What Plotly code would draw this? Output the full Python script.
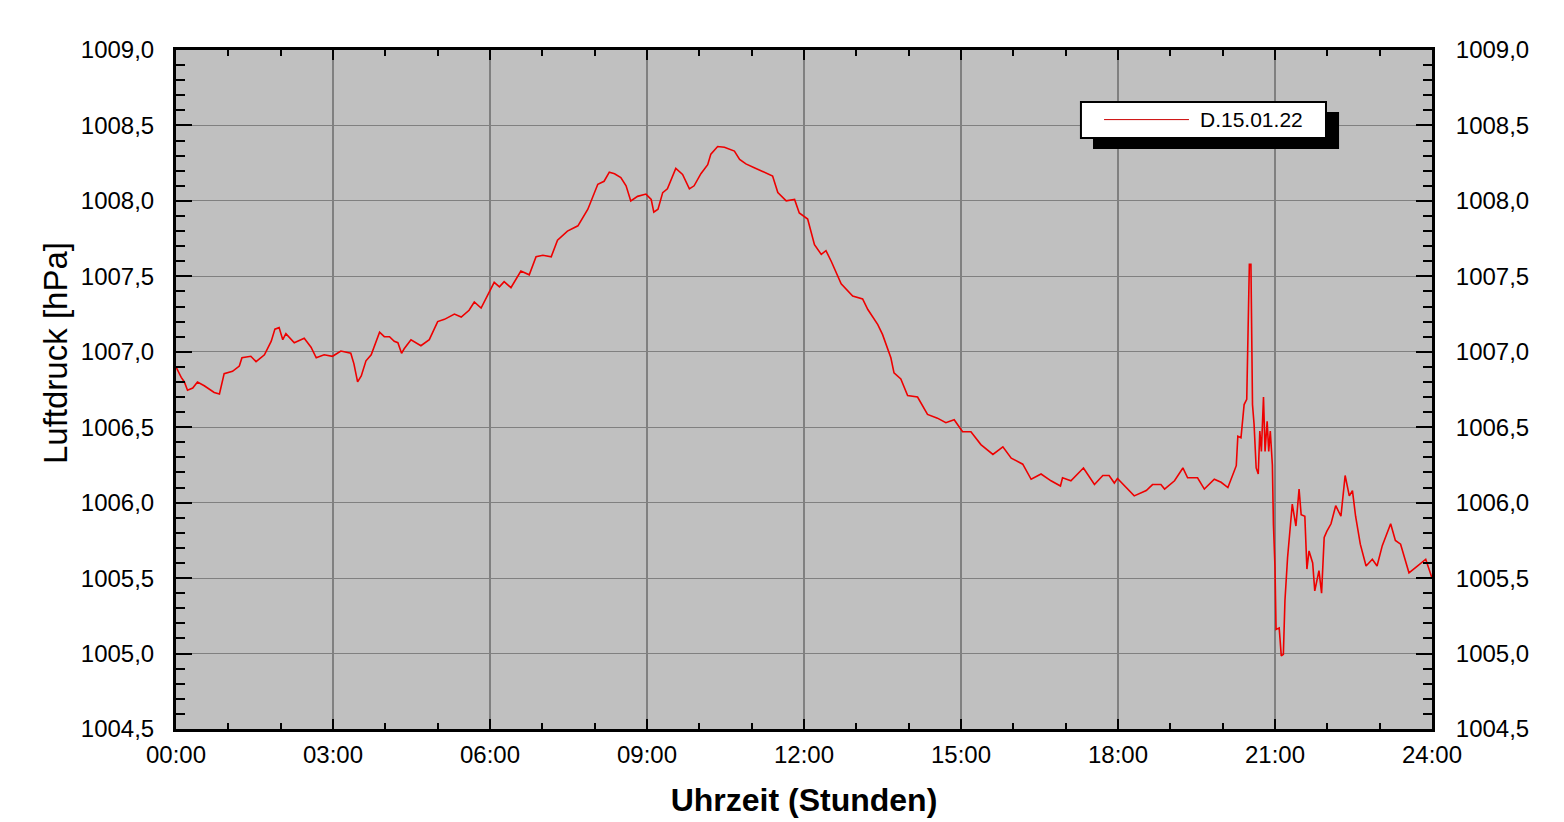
import numpy as np
import plotly.graph_objects as go

# ---- data ----
hours = [0.00, 0.10, 0.16, 0.22, 0.32, 0.41, 0.54, 0.73, 0.83, 0.92, 1.08, 1.21, 1.26, 1.43, 1.53,
         1.69, 1.82, 1.89, 1.97, 2.04, 2.10, 2.26, 2.45, 2.58, 2.68, 2.83, 2.99, 3.15, 3.34, 3.40,
         3.47, 3.54, 3.63, 3.73, 3.89, 3.98, 4.08, 4.17, 4.24, 4.31, 4.36, 4.49, 4.68, 4.84, 5.00,
         5.13, 5.32, 5.45, 5.60, 5.70, 5.83, 6.08, 6.18, 6.27, 6.40, 6.59, 6.75, 6.88, 7.01, 7.17,
         7.29, 7.48, 7.68, 7.87, 8.06, 8.18, 8.28, 8.38, 8.50, 8.60, 8.69, 8.82, 8.98, 9.08, 9.13,
         9.21, 9.30, 9.39, 9.55, 9.68, 9.81, 9.90, 10.03, 10.16, 10.22, 10.35, 10.48, 10.67, 10.77,
         10.89, 11.05, 11.24, 11.40, 11.50, 11.66, 11.82, 11.91, 12.07, 12.20, 12.33, 12.42, 12.52,
         12.65, 12.71, 12.93, 13.12, 13.22, 13.41, 13.50, 13.66, 13.72, 13.85, 13.98, 14.17, 14.36,
         14.55, 14.71, 14.87, 15.03, 15.19, 15.38, 15.61, 15.80, 15.96, 16.18, 16.34, 16.53, 16.72,
         16.90, 16.94, 17.10, 17.34, 17.55, 17.71, 17.83, 17.93, 17.99, 18.31, 18.54, 18.66, 18.82,
         18.89, 19.08, 19.24, 19.33, 19.52, 19.65, 19.84, 19.97, 20.10, 20.26, 20.29, 20.35, 20.41,
         20.46, 20.49, 20.51, 20.54, 20.55, 20.57, 20.60, 20.64, 20.68, 20.71, 20.74, 20.78, 20.81,
         20.85, 20.88, 20.91, 20.95, 20.97, 21.00, 21.02, 21.08, 21.12, 21.16, 21.19, 21.24, 21.29,
         21.33, 21.40, 21.46, 21.50, 21.57, 21.61, 21.65, 21.72, 21.76, 21.84, 21.89, 21.94, 21.99,
         22.07, 22.16, 22.26, 22.34, 22.42, 22.48, 22.54, 22.63, 22.74, 22.86, 22.95, 23.05, 23.21,
         23.30, 23.40, 23.56, 23.72, 23.88, 24.00]

pressure = [1006.90, 1006.83, 1006.80, 1006.745, 1006.76, 1006.80, 1006.775, 1006.73, 1006.72, 1006.855,
            1006.87, 1006.905, 1006.96, 1006.97, 1006.935, 1006.98, 1007.07, 1007.15, 1007.16, 1007.08,
            1007.12, 1007.06, 1007.09, 1007.03, 1006.96, 1006.98, 1006.97, 1007.005, 1006.99, 1006.92,
            1006.80, 1006.84, 1006.94, 1006.98, 1007.13, 1007.10, 1007.10, 1007.07, 1007.06, 1006.99,
            1007.02, 1007.08, 1007.04, 1007.08, 1007.20, 1007.215, 1007.25, 1007.23, 1007.275, 1007.33,
            1007.29, 1007.46, 1007.43, 1007.465, 1007.425, 1007.535, 1007.51, 1007.63, 1007.64, 1007.63,
            1007.74, 1007.80, 1007.835, 1007.945, 1008.11, 1008.13, 1008.19, 1008.18, 1008.155, 1008.10,
            1008.00, 1008.03, 1008.045, 1008.01, 1007.925, 1007.945, 1008.055, 1008.08, 1008.215, 1008.175,
            1008.08, 1008.10, 1008.18, 1008.24, 1008.31, 1008.36, 1008.355, 1008.33, 1008.275, 1008.245,
            1008.22, 1008.19, 1008.165, 1008.055, 1008.00, 1008.01, 1007.92, 1007.88, 1007.71, 1007.645,
            1007.67, 1007.60, 1007.49, 1007.45, 1007.37, 1007.35, 1007.28, 1007.18, 1007.115, 1006.96,
            1006.86, 1006.82, 1006.71, 1006.70, 1006.585, 1006.56, 1006.53, 1006.55, 1006.47, 1006.47,
            1006.385, 1006.32, 1006.37, 1006.295, 1006.255, 1006.155, 1006.19, 1006.145, 1006.11, 1006.165,
            1006.145, 1006.23, 1006.12, 1006.18, 1006.18, 1006.13, 1006.16, 1006.045, 1006.08, 1006.12,
            1006.12, 1006.09, 1006.145, 1006.23, 1006.165, 1006.165, 1006.09, 1006.155, 1006.135, 1006.10,
            1006.245, 1006.44, 1006.43, 1006.65, 1006.685, 1007.115, 1007.58, 1007.58, 1007.115, 1006.65,
            1006.52, 1006.23, 1006.19, 1006.475, 1006.34, 1006.70, 1006.34, 1006.54, 1006.34, 1006.475,
            1006.25, 1005.855, 1005.57, 1005.16, 1005.17, 1004.985, 1004.995, 1005.35, 1005.635, 1005.855,
            1005.99, 1005.845, 1006.09, 1005.92, 1005.91, 1005.56, 1005.68, 1005.60, 1005.415, 1005.55,
            1005.40, 1005.77, 1005.81, 1005.86, 1005.98, 1005.91, 1006.18, 1006.045, 1006.08, 1005.91,
            1005.725, 1005.58, 1005.625, 1005.58, 1005.715, 1005.86, 1005.75, 1005.725, 1005.535, 1005.58,
            1005.625, 1005.50]

x_tickvals = [0, 3, 6, 9, 12, 15, 18, 21, 24]
x_ticktext = ["00:00", "03:00", "06:00", "09:00", "12:00", "15:00", "18:00", "21:00", "24:00"]
y_tickvals = [1004.5, 1005.0, 1005.5, 1006.0, 1006.5, 1007.0, 1007.5, 1008.0, 1008.5, 1009.0]
y_ticktext = ["1004,5", "1005,0", "1005,5", "1006,0", "1006,5", "1007,0", "1007,5", "1008,0", "1008,5", "1009,0"]
series_name = "D.15.01.22"
x_title = "Uhrzeit (Stunden)"
y_title = "Luftdruck [hPa]"

FONT = "Liberation Sans, Arial, sans-serif"
RED = "#ee0000"

x_minor = [float(v) for v in np.arange(0, 24.01, 1.0)]
y_minor = [round(float(v), 1) for v in np.arange(1004.5, 1009.01, 0.1)]

fig = go.Figure()
fig.add_trace(go.Scatter(x=hours, y=pressure, mode="lines", name=series_name,
                         line=dict(color=RED, width=1.6), showlegend=False))
# invisible copy on the mirror axes (top / right)
fig.add_trace(go.Scatter(x=hours, y=pressure, mode="lines", xaxis="x2", yaxis="y2",
                         line=dict(color="rgba(0,0,0,0)", width=0), hoverinfo="skip",
                         showlegend=False))

common_x = dict(range=[0, 24], tickmode="array", tickvals=x_tickvals,
                ticks="inside", ticklen=10, tickwidth=2, tickcolor="black",
                showline=True, linecolor="black", linewidth=3, zeroline=False,
                minor=dict(tickmode="array", tickvals=x_minor, ticks="inside",
                           ticklen=6, tickwidth=2, tickcolor="black", showgrid=False))
common_y = dict(range=[1004.5, 1009.0], tickmode="array", tickvals=y_tickvals,
                ticks="inside", ticklen=16, tickwidth=2, tickcolor="black",
                showline=True, linecolor="black", linewidth=3, zeroline=False,
                minor=dict(tickmode="array", tickvals=y_minor, ticks="inside",
                           ticklen=9, tickwidth=2, tickcolor="black", showgrid=False))

fig.update_layout(
    width=1564, height=822,
    margin=dict(l=168, r=140, t=42, b=101, autoexpand=False),
    paper_bgcolor="white", plot_bgcolor="#c0c0c0",
    font=dict(family=FONT, size=24, color="black"),
    xaxis=dict(**common_x, ticktext=x_ticktext, showgrid=True, gridcolor="#808080", gridwidth=2,
               tickfont=dict(size=24), ticklabelstandoff=2,
               title=dict(text="<b>" + x_title + "</b>", font=dict(size=32), standoff=22)),
    yaxis=dict(**common_y, ticktext=y_ticktext, showgrid=True, gridcolor="#808080", gridwidth=1,
               tickfont=dict(size=24), ticklabelstandoff=14),
    xaxis2=dict(**common_x, overlaying="x", side="top", showticklabels=False, showgrid=False),
    yaxis2=dict(**common_y, ticktext=y_ticktext, overlaying="y", side="right", showgrid=False,
                tickfont=dict(size=24), ticklabelstandoff=16),
)

# y-axis title (placed a little above the axis centre, as in the original)
fig.add_annotation(xref="paper", yref="paper", x=-0.0955, y=0.5538, xanchor="center", yanchor="middle",
                   text=y_title, textangle=-90, showarrow=False,
                   font=dict(size=33, color="black", family=FONT))

# manual legend box with drop shadow
fig.add_shape(type="rect", xref="paper", yref="paper", x0=0.7301, x1=0.9260, y0=0.8542, y1=0.9086,
              fillcolor="black", line=dict(width=0), layer="above")
fig.add_shape(type="rect", xref="paper", yref="paper", x0=0.7205, x1=0.9156, y0=0.8704, y1=0.9234,
              fillcolor="white", line=dict(color="black", width=2), layer="above")
fig.add_shape(type="line", xref="paper", yref="paper", x0=0.7389, x1=0.8065, y0=0.8975, y1=0.8975,
              line=dict(color="#cc0000", width=1), layer="above")
fig.add_annotation(xref="paper", yref="paper", x=0.8137, y=0.8975, xanchor="left", yanchor="middle",
                   text=series_name, showarrow=False, font=dict(size=21, color="black", family=FONT))

fig.write_html("out.html")
